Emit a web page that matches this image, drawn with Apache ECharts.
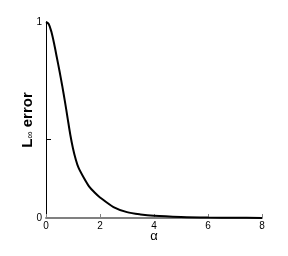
<!DOCTYPE html>
<html><head><meta charset="utf-8">
<script src="https://cdn.jsdelivr.net/npm/echarts@6/dist/echarts.min.js"></script>
<style>html,body{margin:0;padding:0;background:#fff}#c{width:288px;height:256px}</style>
</head><body><div id="c"></div>
<script>
const alpha = [0,0.1,0.2,0.3,0.4,0.5,0.6,0.7,0.8,0.9,1.0,1.1,1.2,1.4,1.6,1.8,2.0,2.5,3.0,3.5,4.0,5.0,6.0,7.0,8.0];
const errVals = [1,0.99,0.95,0.89,0.82,0.75,0.675,0.595,0.51,0.425,0.355,0.3,0.258,0.205,0.16,0.13,0.105,0.056,0.03,0.018,0.011,0.005,0.002,0.001,0.0005];
const xTicks = [0,2,4,6,8];
const yLabels = [0,1];
const yTicks = [0.4];
const chart = echarts.init(document.getElementById('c'));
chart.setOption({
  animation:false,
  grid:{left:46,right:26,top:22,bottom:38},
  xAxis:{type:'value',min:0,max:8,interval:2,
    name:'α',nameLocation:'middle',nameGap:12,nameMoveOverlap:false,
    nameTextStyle:{fontFamily:'Liberation Sans',fontSize:13,color:'#000'},
    axisLine:{lineStyle:{color:'#808080',width:2}},
    axisTick:{inside:true,length:4,lineStyle:{color:'#808080',width:1}},
    axisLabel:{fontFamily:'Liberation Sans',fontSize:10,color:'#000',margin:3,customValues:xTicks},
    splitLine:{show:false}},
  yAxis:{type:'value',min:0,max:1,
    name:'{b|L}{s|∞}{b| error}',nameLocation:'middle',nameGap:11,nameMoveOverlap:false,
    nameTextStyle:{rich:{b:{fontFamily:'Liberation Sans',fontWeight:'bold',fontSize:15,color:'#000'},
      s:{fontFamily:'Liberation Sans',fontSize:10,color:'#000',verticalAlign:'bottom'}}},
    axisLine:{show:true,lineStyle:{color:'#000',width:1}},
    axisTick:{show:true,inside:true,length:5,customValues:yTicks,lineStyle:{color:'#000'}},
    axisLabel:{fontFamily:'Liberation Sans',fontSize:10,color:'#000',margin:4,customValues:yLabels},
    splitLine:{show:false}},
  series:[{type:'line',data:alpha.map((a,i)=>[a,errVals[i]]),smooth:0.3,symbol:'none',
    lineStyle:{color:'#000',width:2}}]
});
</script></body></html>
